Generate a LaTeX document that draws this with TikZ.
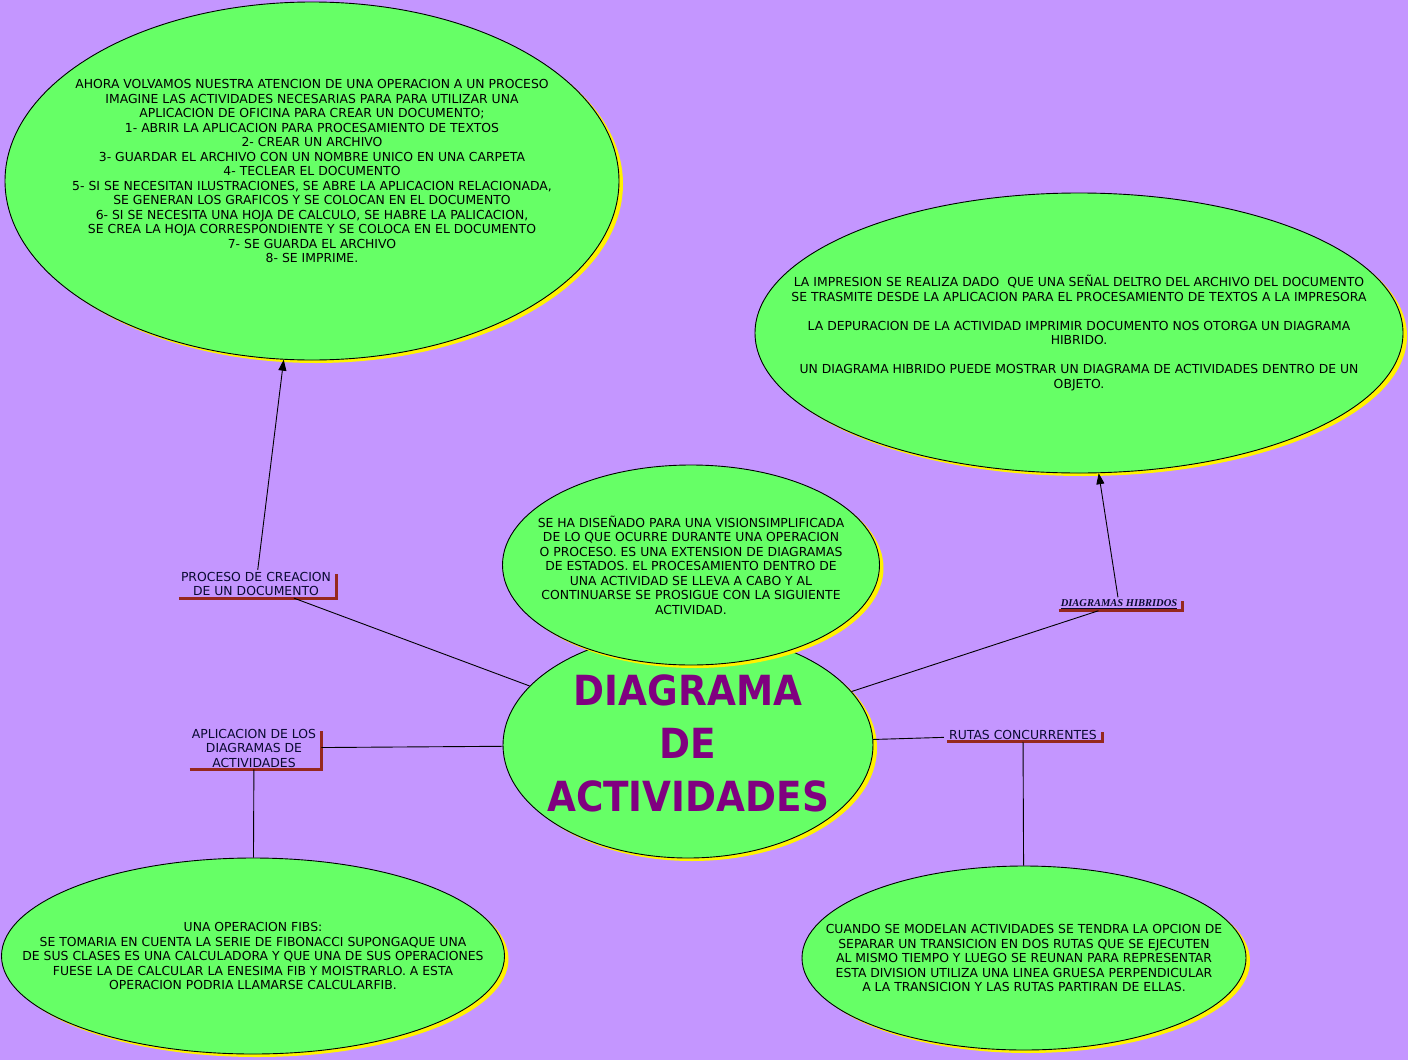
\documentclass[tikz,border=0pt]{standalone}
\usepackage{fontspec}
\setmainfont{DejaVu Sans}
\newfontfamily\titlefont[FakeStretch=0.9]{DejaVu Sans}
\newfontfamily\hibfont{Liberation Serif}
\usepackage{tikz}
\usetikzlibrary{positioning, arrows.meta, shapes.geometric, shadows}
\usepackage{xcolor}
\definecolor{fondo}{RGB}{196,150,255}
\definecolor{verde}{RGB}{102,255,102}
\definecolor{marron}{RGB}{150,40,30}
\definecolor{morado}{RGB}{128,0,128}
\definecolor{tinta}{RGB}{10,10,50}

\begin{document}
\begin{tikzpicture}[x=1pt, y=-1pt,
    bubble/.style={ellipse, draw=black, line width=0.9pt, fill=verde, inner sep=0pt,
        general shadow={fill=yellow, shadow xshift=4pt, shadow yshift=-3pt}},
    bubbletext/.style={align=center, font=\fontsize{12.4}{14.5}\selectfont},
    rama/.style={align=center, text=tinta, inner xsep=5pt, inner ysep=2pt,
        font=\fontsize{12.4}{14.5}\selectfont},
    barra/.style={draw=marron, line width=3pt},
    enlace/.style={draw=black, line width=0.9pt},
    flecha/.style={enlace, -{Triangle[length=11pt, width=8pt]}}]
    \useasboundingbox (0,0) rectangle (1408,1060);
    \fill[fondo] (0,0) rectangle (1408,1060);

    % Central concept
    \node[bubble, minimum width=370pt, minimum height=226pt] (main) at (688,745) {};
    \node[align=center, text=morado, font=\titlefont\bfseries\fontsize{41.5}{53}\selectfont]
        (main-txt) at ([yshift=2pt]main) {DIAGRAMA\\DE\\ACTIVIDADES};

    % Definition bubble over the central one
    \node[bubble, minimum width=377pt, minimum height=200pt] (defbub) at (691,565) {};
    \node[bubbletext] (defbub-txt) at (defbub) {SE HA DISEÑADO PARA UNA VISIONSIMPLIFICADA\\
        DE LO QUE OCURRE DURANTE UNA OPERACION\\
        O PROCESO. ES UNA EXTENSION DE DIAGRAMAS\\
        DE ESTADOS. EL PROCESAMIENTO DENTRO DE\\
        UNA ACTIVIDAD SE LLEVA A CABO Y AL\\
        CONTINUARSE SE PROSIGUE CON LA SIGUIENTE\\
        ACTIVIDAD.};

    % Upper left: creating a document
    \node[bubble, minimum width=614pt, minimum height=358pt] (procbub) at (312,181) {};
    \node[bubbletext, yshift=10pt] (procbub-txt) at (procbub) {AHORA VOLVAMOS NUESTRA ATENCION DE UNA OPERACION A UN PROCESO\\
        IMAGINE LAS ACTIVIDADES NECESARIAS PARA PARA UTILIZAR UNA\\
        APLICACION DE OFICINA PARA CREAR UN DOCUMENTO;\\
        1- ABRIR LA APLICACION PARA PROCESAMIENTO DE TEXTOS\\
        2- CREAR UN ARCHIVO\\
        3- GUARDAR EL ARCHIVO CON UN NOMBRE UNICO EN UNA CARPETA\\
        4- TECLEAR EL DOCUMENTO\\
        5- SI SE NECESITAN ILUSTRACIONES, SE ABRE LA APLICACION RELACIONADA,\\
        SE GENERAN LOS GRAFICOS Y SE COLOCAN EN EL DOCUMENTO\\
        6- SI SE NECESITA UNA HOJA DE CALCULO, SE HABRE LA PALICACION,\\
        SE CREA LA HOJA CORRESPONDIENTE Y SE COLOCA EN EL DOCUMENTO\\
        7- SE GUARDA EL ARCHIVO\\
        8- SE IMPRIME.};

    % Upper right: printing
    \node[bubble, minimum width=648pt, minimum height=280pt] (impbub) at (1079,333) {};
    \node[bubbletext] (impbub-txt) at (impbub) {LA IMPRESION SE REALIZA DADO\ \ QUE UNA SEÑAL DELTRO DEL ARCHIVO DEL DOCUMENTO\\
        SE TRASMITE DESDE LA APLICACION PARA EL PROCESAMIENTO DE TEXTOS A LA IMPRESORA\\[14.5pt]
        LA DEPURACION DE LA ACTIVIDAD IMPRIMIR DOCUMENTO NOS OTORGA UN DIAGRAMA\\
        HIBRIDO.\\[14.5pt]
        UN DIAGRAMA HIBRIDO PUEDE MOSTRAR UN DIAGRAMA DE ACTIVIDADES DENTRO DE UN\\
        OBJETO.};

    % Lower left: fibonacci
    \node[bubble, minimum width=503pt, minimum height=196pt] (fibbub) at (253,956) {};
    \node[bubbletext] (fibbub-txt) at (fibbub) {UNA OPERACION FIBS:\\
        SE TOMARIA EN CUENTA LA SERIE DE FIBONACCI SUPONGAQUE UNA\\
        DE SUS CLASES ES UNA CALCULADORA Y QUE UNA DE SUS OPERACIONES\\
        FUESE LA DE CALCULAR LA ENESIMA FIB Y MOISTRARLO. A ESTA\\
        OPERACION PODRIA LLAMARSE CALCULARFIB.};

    % Lower right: concurrent paths
    \node[bubble, minimum width=444pt, minimum height=184pt] (rutbub) at (1024,958) {};
    \node[bubbletext] (rutbub-txt) at (rutbub) {CUANDO SE MODELAN ACTIVIDADES SE TENDRA LA OPCION DE\\
        SEPARAR UN TRANSICION EN DOS RUTAS QUE SE EJECUTEN\\
        AL MISMO TIEMPO Y LUEGO SE REUNAN PARA REPRESENTAR\\
        ESTA DIVISION UTILIZA UNA LINEA GRUESA PERPENDICULAR\\
        A LA TRANSICION Y LAS RUTAS PARTIRAN DE ELLAS.};

    % Branch labels
    \node[rama] (proclab) at (256,584) {PROCESO DE CREACION\\DE UN DOCUMENTO};
    \node[rama, font=\hibfont\bfseries\itshape\fontsize{10.5}{12}\selectfont]
        (hiblab) at (1119,604) {\underline{DIAGRAMAS HIBRIDOS}};
    \node[rama] (aplilab) at (254,748) {APLICACION DE LOS\\DIAGRAMAS DE\\ACTIVIDADES};
    \node[rama] (rutlab) at (1023,735) {RUTAS CONCURRENTES};

    \foreach \lab in {proclab, hiblab, aplilab, rutlab}
        \draw[barra] ([xshift=3pt]\lab.south west) -| ([yshift=-4pt]\lab.north east);

    % Connectors
    \draw[enlace] (main) -- (proclab);
    \draw[flecha] (proclab) -- (procbub.261);
    \draw[enlace] (main) -- (hiblab);
    \draw[flecha] (hiblab) -- (impbub.278);
    \draw[enlace] (main) -- (aplilab);
    \draw[enlace] (aplilab) -- (fibbub);
    \draw[enlace] (main) -- (rutlab);
    \draw[enlace] (rutlab) -- (rutbub);
\end{tikzpicture}
\end{document}
